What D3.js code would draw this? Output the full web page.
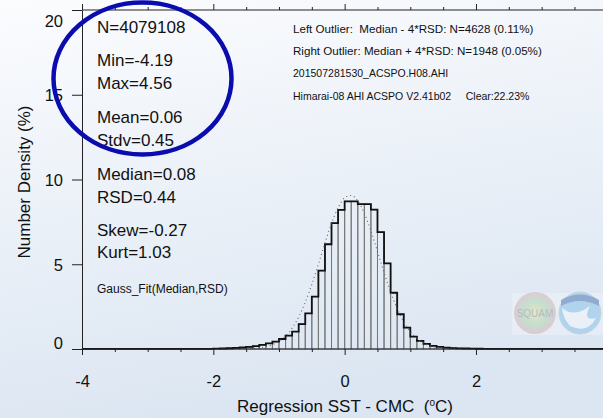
<!DOCTYPE html>
<html lang="en">
<head>
  <meta charset="UTF-8">
  <title>Regression SST - CMC histogram</title>
  <script src="https://d3js.org/d3.v7.min.js"></script>
  <style>
      body { margin: 0; }
      text { font-family: "Liberation Sans", Arial, Helvetica, sans-serif; fill: #111; white-space: pre; }
      .axis path, .axis line { stroke: #222; stroke-width: 1px; }
      .bar { fill: none; stroke: #777; stroke-width: 1px; }
      .envelope { fill: none; stroke: #111; stroke-width: 1.8px; }
      .gauss { fill: none; stroke: #666; stroke-width: 1.1px; stroke-dasharray: 1 3; }
  </style>
</head>
<body>
<svg width="603" height="418"></svg>
<script>
  // histogram: bin width 0.1, first bin starts at -4.0
  const binStart = -4.0;
  const binWidth = 0.1;
  const density = [
    0.003, 0.003, 0.003, 0.003, 0.003, 0.003, 0.003, 0.003, 0.003, 0.003,   // -4.0 .. -3.1
    0.004, 0.004, 0.004, 0.004, 0.004, 0.005, 0.006, 0.008, 0.010, 0.013,   // -3.0 .. -2.1
    0.018, 0.03, 0.045, 0.065, 0.09, 0.12, 0.17, 0.24, 0.33, 0.43,           // -2.0 .. -1.1
    0.59, 0.79, 1.03, 1.47, 2.10, 3.09, 4.62, 6.18, 7.43, 8.21,              // -1.0 .. -0.1
    8.71, 8.71, 8.55, 8.55, 8.22, 6.90, 5.05, 3.32, 2.05, 1.26,              //  0.0 ..  0.9
    0.73, 0.48, 0.30, 0.19, 0.12, 0.08, 0.055, 0.04, 0.03, 0.02,             //  1.0 ..  1.9
    0.015, 0.012, 0.01, 0.008, 0.007, 0.006, 0.005, 0.004, 0.004, 0.003,    //  2.0 ..  2.9
    0.003, 0.003, 0.003, 0.002, 0.002, 0.002, 0.002, 0.002, 0.002, 0.002    //  3.0 ..  3.9
  ];

  // dotted Gauss_Fit(Median,RSD) curve
  const gaussX = [-1.5, -1.4, -1.3, -1.2, -1.1, -1.0, -0.9, -0.8, -0.7, -0.6, -0.5, -0.4, -0.3, -0.2, -0.1,
                  0.0, 0.1, 0.2, 0.3, 0.4, 0.5, 0.6, 0.7, 0.8, 0.9, 1.0, 1.1, 1.2, 1.3, 1.4, 1.5, 1.6, 1.7];
  const gaussY = [0.01, 0.03, 0.07, 0.13, 0.25, 0.45, 0.76, 1.23, 1.89, 2.75, 3.81, 5.00, 6.25, 7.41, 8.34,
                  8.92, 9.06, 8.74, 8.00, 6.96, 5.75, 4.51, 3.36, 2.38, 1.60, 1.02, 0.62, 0.36, 0.19, 0.10, 0.05, 0.02, 0.01];

  const xTicks = [-4, -2, 0, 2, 4];
  const xTickLabels = ["-4", "-2", "0", "2", ""];   // the "4" label falls outside the cropped picture
  const xMinorTicks = [-3.5, -3, -2.5, -1.5, -1, -0.5, 0.5, 1, 1.5, 2.5, 3, 3.5];
  const yTicks = [0, 5, 10, 15, 20];

  const statsLines = [
    ["N=4079108", 33], ["Min=-4.19", 66], ["Max=4.56", 89], ["Mean=0.06", 123], ["Stdv=0.45", 146],
    ["Median=0.08", 180], ["RSD=0.44", 203], ["Skew=-0.27", 236], ["Kurt=1.03", 258]
  ];
  const infoLines = [
    ["Left Outlier:  Median - 4*RSD: N=4628 (0.11%)", 33, 11.6],
    ["Right Outlier: Median + 4*RSD: N=1948 (0.05%)", 55, 11.6],
    ["201507281530_ACSPO.H08.AHI", 77, 10.5],
    ["Himarai-08 AHI ACSPO V2.41b02     Clear:22.23%", 100, 10.5]
  ];

  const svg = d3.select("svg");

  const defs = svg.append("defs");
  const bg = defs.append("linearGradient").attr("id", "bg")
  .attr("x1", 0).attr("y1", 0).attr("x2", 0.25).attr("y2", 1);
  bg.append("stop").attr("offset", "0%").attr("stop-color", "#fbfcfe");
  bg.append("stop").attr("offset", "100%").attr("stop-color", "#dce6f2");

  const squamGrad = defs.append("radialGradient").attr("id", "squam");
  squamGrad.append("stop").attr("offset", "0%").attr("stop-color", "#e8e27a");
  squamGrad.append("stop").attr("offset", "55%").attr("stop-color", "#9fd39a");
  squamGrad.append("stop").attr("offset", "100%").attr("stop-color", "#d9a0a0");

  svg.append("rect").attr("width", 603).attr("height", 418).attr("fill", "url(#bg)");

  const x = d3.scaleLinear().domain([-4, 4]).range([82, 607.3]);
  const y = d3.scaleLinear().domain([0, 20]).range([349, 10]);

  // faded logos
  const logos = svg.append("g").attr("opacity", 0.4);
  logos.append("rect").attr("x", 512).attr("y", 293).attr("width", 91).attr("height", 42).attr("fill", "#f4f7fb");
  logos.append("circle").attr("cx", 535).attr("cy", 313).attr("r", 21).attr("fill", "url(#squam)");
  logos.append("text").attr("x", 535).attr("y", 317).attr("text-anchor", "middle")
  .style("font-size", "10px").style("fill", "#777").text("SQUAM");
  logos.append("circle").attr("cx", 580).attr("cy", 313).attr("r", 21).attr("fill", "#6fb6e8")
  .attr("stroke", "#9bb").attr("stroke-width", 1);
  logos.append("path").attr("d", "M561,306 Q580,296 599,306 L599,300 Q580,289 561,300 Z").attr("fill", "#1f4e9a");
  logos.append("path").attr("d", "M562,308 Q574,318 590,306 Q582,322 596,318 Q588,334 570,326 Q563,318 562,308 Z")
  .attr("fill", "#ffffff");

  // histogram bars
  const bins = density.map((v, i) => ({x0: binStart + i * binWidth, x1: binStart + (i + 1) * binWidth, v}));

  svg.append("g")
  .selectAll("rect")
  .data(bins)
  .enter().append("rect")
  .attr("class", "bar")
  .attr("x", d => x(d.x0))
  .attr("y", d => y(d.v))
  .attr("width", d => x(d.x1) - x(d.x0))
  .attr("height", d => y(0) - y(d.v));

  const stepPts = [];
  bins.forEach(d => { stepPts.push([d.x0, d.v]); stepPts.push([d.x1, d.v]); });
  svg.append("path")
  .attr("class", "envelope")
  .attr("d", d3.line().x(d => x(d[0])).y(d => y(d[1]))(stepPts));

  svg.append("path")
  .attr("class", "gauss")
  .attr("d", d3.line().curve(d3.curveMonotoneX).x(d => x(d[0])).y(d => y(d[1]))(gaussX.map((v, i) => [v, gaussY[i]])));

  // axes
  const bottomAxis = svg.append("g").attr("class", "axis").attr("transform", `translate(0,${y(0)})`)
  .call(d3.axisBottom(x).tickValues(xTicks).tickSize(6).tickSizeOuter(0).tickPadding(0)
    .tickFormat((d, i) => xTickLabels[i]));
  bottomAxis.select(".domain").remove();
  bottomAxis.selectAll(".tick text").attr("dy", null).attr("y", 38).style("font-size", "16.5px").style("fill", "#111");
  svg.append("g").attr("class", "axis").attr("transform", `translate(0,${y(0)})`)
  .call(d3.axisBottom(x).tickValues(xMinorTicks).tickSize(3).tickFormat(""))
  .select(".domain").remove();
  svg.append("line").attr("x1", x(-4)).attr("x2", 603).attr("y1", y(0)).attr("y2", y(0)).attr("stroke", "#222");

  const topAxis = svg.append("g").attr("class", "axis").attr("transform", `translate(0,${y(20)})`)
  .call(d3.axisTop(x).tickValues(xTicks).tickSize(6).tickFormat(""));
  topAxis.select(".domain").remove();
  svg.append("g").attr("class", "axis").attr("transform", `translate(0,${y(20)})`)
  .call(d3.axisTop(x).tickValues(xMinorTicks).tickSize(3).tickFormat(""))
  .select(".domain").remove();
  svg.append("line").attr("x1", x(-4)).attr("x2", 603).attr("y1", y(20)).attr("y2", y(20)).attr("stroke", "#222");

  const leftAxis = svg.append("g").attr("class", "axis").attr("transform", `translate(${x(-4)},0)`)
  .call(d3.axisLeft(y).tickValues(yTicks).tickSize(10).tickSizeOuter(0).tickPadding(9));
  leftAxis.selectAll(".tick text")
  .style("font-size", "16.5px").style("fill", "#111")
  .attr("dy", d => d === 0 ? "-0.02em" : d === 20 ? "1em" : "0.36em");

  // axis titles
  const xTitle = svg.append("text").attr("x", 345).attr("y", 412).attr("text-anchor", "middle")
  .style("font-size", "17px");
  xTitle.append("tspan").text("Regression SST - CMC  (");
  xTitle.append("tspan").attr("dy", -6).style("font-size", "10px").text("o");
  xTitle.append("tspan").attr("dy", 6).text("C)");

  svg.append("text").attr("transform", "translate(30,182) rotate(-90)").attr("text-anchor", "middle")
  .style("font-size", "17px").text("Number Density (%)");

  // statistics text
  svg.append("g").selectAll("text")
  .data(statsLines)
  .enter().append("text")
  .attr("x", 97).attr("y", d => d[1])
  .style("font-size", "17px")
  .text(d => d[0]);

  svg.append("text").attr("x", 97).attr("y", 293).style("font-size", "12px").text("Gauss_Fit(Median,RSD)");

  svg.append("g").selectAll("text")
  .data(infoLines)
  .enter().append("text")
  .attr("x", 293).attr("y", d => d[1])
  .style("font-size", d => d[2] + "px")
  .text(d => d[0]);

  // highlight ellipse
  svg.append("ellipse")
  .attr("cx", 142.5).attr("cy", 78.5).attr("rx", 89).attr("ry", 76)
  .attr("fill", "none").attr("stroke", "#0a0cb0").attr("stroke-width", 4.5);
</script>
</body>
</html>
